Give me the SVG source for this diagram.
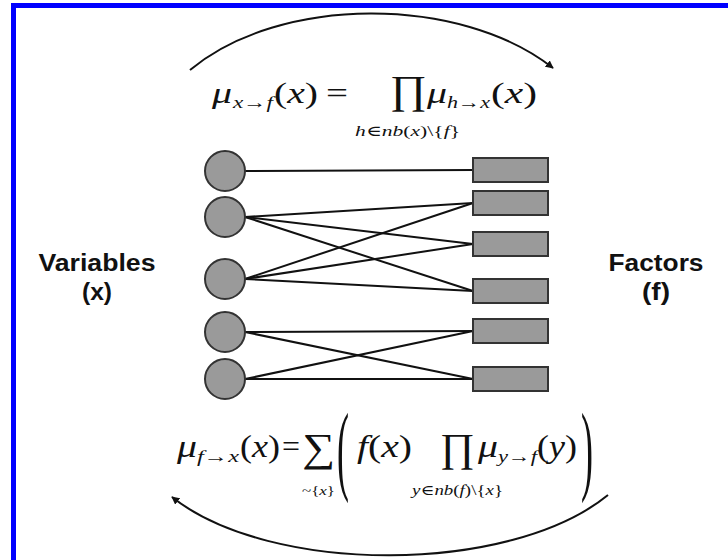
<svg xmlns="http://www.w3.org/2000/svg" width="728" height="560" viewBox="0 0 728 560">
<style>
.m{font-family:"Liberation Serif","Times New Roman","DejaVu Serif",serif;fill:#111}
.i{font-style:italic}
.lbl{font-family:"Liberation Sans",Arial,sans-serif;font-weight:bold;font-size:23px;fill:#111;text-anchor:middle}
.var{fill:#9a9a9a;stroke:#333;stroke-width:2}
.fac{fill:#9a9a9a;stroke:#333;stroke-width:2}
.edge{stroke:#111;stroke-width:2;fill:none}
.arc{stroke:#111;stroke-width:2;fill:none}
</style>
<defs>
<marker id="ah" viewBox="0 0 10 10" refX="9" refY="5" markerWidth="8" markerHeight="8" markerUnits="userSpaceOnUse" orient="auto">
<path d="M0,0 L10,5 L0,10 Z" fill="#111"/>
</marker>
</defs>
<rect x="0" y="0" width="728" height="560" fill="#fff"/>
<rect x="13.5" y="5.5" width="800" height="800" fill="none" stroke="#0000ff" stroke-width="5"/>

<g id="connectors">
<path class="arc" d="M190,70 C280,-5 460,-5 553,68" marker-end="url(#ah)"/>
<path class="arc" d="M608,495 C510,575 270,575 172,497" marker-end="url(#ah)"/>
<line class="edge" x1="245" y1="171" x2="473" y2="170"/>
<line class="edge" x1="245" y1="217" x2="473" y2="203"/>
<line class="edge" x1="245" y1="217" x2="473" y2="244"/>
<line class="edge" x1="245" y1="217" x2="473" y2="291"/>
<line class="edge" x1="245" y1="279" x2="473" y2="203"/>
<line class="edge" x1="245" y1="279" x2="473" y2="244"/>
<line class="edge" x1="245" y1="279" x2="473" y2="291"/>
<line class="edge" x1="245" y1="332" x2="473" y2="331"/>
<line class="edge" x1="245" y1="332" x2="473" y2="379"/>
<line class="edge" x1="245" y1="379" x2="473" y2="331"/>
<line class="edge" x1="245" y1="379" x2="473" y2="379"/>
</g>

<g id="x1"><circle class="var" cx="225" cy="171" r="20"/></g>
<g id="x2"><circle class="var" cx="225" cy="217" r="20"/></g>
<g id="x3"><circle class="var" cx="225" cy="279" r="20"/></g>
<g id="x4"><circle class="var" cx="225" cy="332" r="20"/></g>
<g id="x5"><circle class="var" cx="225" cy="379" r="20"/></g>

<g id="f1"><rect class="fac" x="473" y="158" width="75" height="24"/></g>
<g id="f2"><rect class="fac" x="473" y="191" width="75" height="24"/></g>
<g id="f3"><rect class="fac" x="473" y="232" width="75" height="24"/></g>
<g id="f4"><rect class="fac" x="473" y="279" width="75" height="24"/></g>
<g id="f5"><rect class="fac" x="473" y="319" width="75" height="24"/></g>
<g id="f6"><rect class="fac" x="473" y="367" width="75" height="24"/></g>

<g id="label-variables">
<text class="lbl" x="97" y="271" textLength="117" lengthAdjust="spacingAndGlyphs">Variables</text>
<text class="lbl" x="97" y="300" textLength="30" lengthAdjust="spacingAndGlyphs">(x)</text>
</g>
<g id="label-factors">
<text class="lbl" x="656" y="271" textLength="95" lengthAdjust="spacingAndGlyphs">Factors</text>
<text class="lbl" x="656" y="300" textLength="28" lengthAdjust="spacingAndGlyphs">(f)</text>
</g>

<g id="formula-top">
<text class="m i" x="212" y="103" font-size="30" textLength="20" lengthAdjust="spacingAndGlyphs">μ</text>
<text class="m i" x="233" y="108" font-size="17" textLength="40" lengthAdjust="spacingAndGlyphs">x→f</text>
<text class="m" x="274" y="103" font-size="30" textLength="44" lengthAdjust="spacingAndGlyphs">(<tspan class="i">x</tspan>)</text>
<text class="m" x="326" y="103" font-size="30" textLength="22" lengthAdjust="spacingAndGlyphs">=</text>
<text class="m" x="390" y="103" font-size="40" textLength="37" lengthAdjust="spacingAndGlyphs">∏</text>
<text class="m i" x="427" y="103" font-size="30" textLength="20" lengthAdjust="spacingAndGlyphs">μ</text>
<text class="m i" x="447" y="108" font-size="17" textLength="43" lengthAdjust="spacingAndGlyphs">h→x</text>
<text class="m" x="491" y="103" font-size="30" textLength="46" lengthAdjust="spacingAndGlyphs">(<tspan class="i">x</tspan>)</text>
<text class="m i" x="355" y="136" font-size="15" textLength="105" lengthAdjust="spacingAndGlyphs">h∈nb<tspan font-style="normal">(</tspan>x<tspan font-style="normal">)\{</tspan>f<tspan font-style="normal">}</tspan></text>
</g>

<g id="formula-bottom">
<text class="m i" x="177" y="457" font-size="32" textLength="20" lengthAdjust="spacingAndGlyphs">μ</text>
<text class="m i" x="197" y="462" font-size="17" textLength="42" lengthAdjust="spacingAndGlyphs">f→x</text>
<text class="m" x="240" y="457" font-size="32" textLength="40" lengthAdjust="spacingAndGlyphs">(<tspan class="i">x</tspan>)</text>
<text class="m" x="282" y="457" font-size="32" textLength="18" lengthAdjust="spacingAndGlyphs">=</text>
<text class="m" x="302" y="461" font-size="40" textLength="33" lengthAdjust="spacingAndGlyphs">∑</text>
<text class="m" x="302" y="495" font-size="13" textLength="33" lengthAdjust="spacingAndGlyphs">~{<tspan class="i">x</tspan>}</text>
<text class="m" font-size="36" transform="translate(337,482) scale(1,2.75)">(</text>
<text class="m" x="357" y="457" font-size="32" textLength="55" lengthAdjust="spacingAndGlyphs"><tspan class="i">f</tspan>(<tspan class="i">x</tspan>)</text>
<text class="m" x="440" y="461" font-size="40" textLength="35" lengthAdjust="spacingAndGlyphs">∏</text>
<text class="m i" x="478" y="457" font-size="32" textLength="20" lengthAdjust="spacingAndGlyphs">μ</text>
<text class="m i" x="498" y="462" font-size="17" textLength="39" lengthAdjust="spacingAndGlyphs">y→f</text>
<text class="m" x="537" y="457" font-size="32" textLength="40" lengthAdjust="spacingAndGlyphs">(<tspan class="i">y</tspan>)</text>
<text class="m" font-size="36" transform="translate(581,482) scale(1,2.75)">)</text>
<text class="m i" x="412" y="495" font-size="14" textLength="91" lengthAdjust="spacingAndGlyphs">y∈nb<tspan font-style="normal">(</tspan>f<tspan font-style="normal">)\{</tspan>x<tspan font-style="normal">}</tspan></text>
</g>
</svg>
